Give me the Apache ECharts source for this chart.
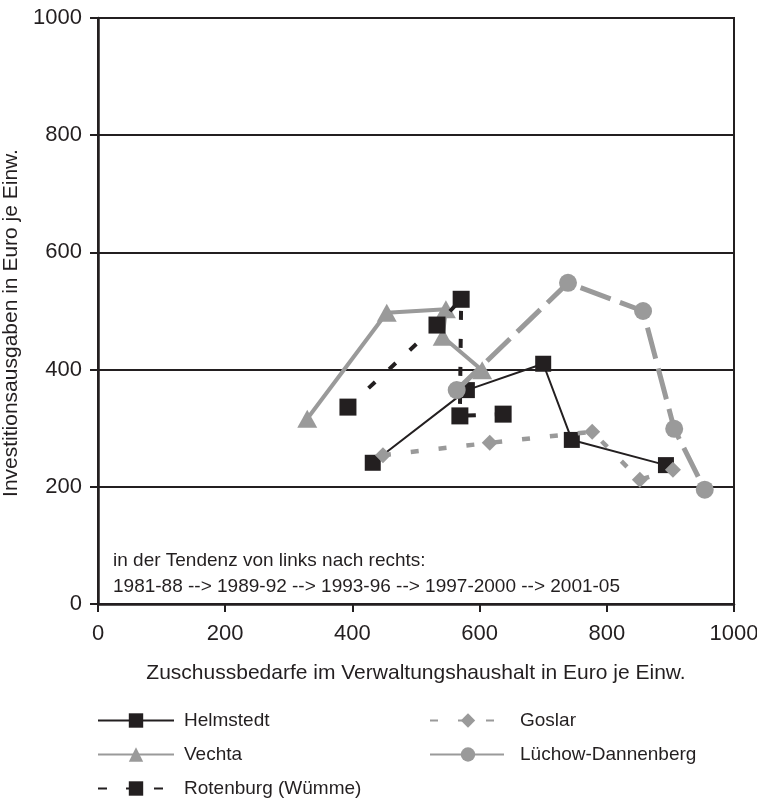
<!DOCTYPE html>
<html>
<head>
<meta charset="utf-8">
<script src="https://cdn.jsdelivr.net/npm/echarts@6/dist/echarts.min.js"></script>
<style>
html,body{margin:0;padding:0;background:#fff;}
#chart{width:757px;height:798px;}
</style>
</head>
<body>
<div id="chart"></div>
<script>
// Data (x: Zuschussbedarfe, y: Investitionsausgaben)
var helmstedtX = [432, 580, 700, 745, 893];
var helmstedtY = [241, 365, 410, 280, 237];
var vechtaX = [329, 454, 547, 542, 604];
var vechtaY = [316, 497, 503, 456, 399];
var rotenburgX = [393, 533, 571, 569, 637];
var rotenburgY = [336, 476, 520, 321, 324];
var goslarX = [448, 616, 777, 852, 904];
var goslarY = [254, 275, 294, 212, 229];
var luechowX = [564, 739, 857, 906, 954];
var luechowY = [365, 548, 500, 299, 195];
var seriesNames = ['Helmstedt', 'Vechta', 'Rotenburg (Wümme)', 'Goslar', 'Lüchow-Dannenberg'];
var xTicks = { min: 0, max: 1000, interval: 200 };
var yTicks = { min: 0, max: 1000, interval: 200 };
var noteLine1 = 'in der Tendenz von links nach rechts:';
var noteLine2 = '1981-88 --> 1989-92 --> 1993-96 --> 1997-2000 --> 2001-05';

function pairs(xs, ys) { return xs.map(function (x, i) { return [x, ys[i]]; }); }

var BLACK = '#231f20';
var GRAY = '#9a9a9a';
var FONT = 'Liberation Sans, Arial, sans-serif';

var chart = echarts.init(document.getElementById('chart'), null, { renderer: 'canvas' });
chart.setOption({
  animation: false,
  backgroundColor: '#fff',
  textStyle: { fontFamily: FONT, color: BLACK },
  grid: { left: 98, right: 23, top: 18, bottom: 194, containLabel: false, outerBoundsMode: 'none',
          show: true, borderColor: BLACK, borderWidth: 2, backgroundColor: 'transparent' },
  xAxis: {
    type: 'value', min: xTicks.min, max: xTicks.max, interval: xTicks.interval,
    name: 'Zuschussbedarfe im Verwaltungshaushalt in Euro je Einw.',
    nameLocation: 'middle', nameGap: 59,
    nameTextStyle: { fontSize: 21, color: BLACK, fontFamily: FONT },
    axisLine: { show: true, lineStyle: { color: BLACK, width: 2.5 } },
    axisTick: { show: true, length: 8, lineStyle: { color: BLACK, width: 2 } },
    axisLabel: { fontSize: 22, color: BLACK, margin: 19, fontFamily: FONT, formatter: function (v) { return String(v); } },
    splitLine: { show: false }
  },
  yAxis: {
    type: 'value', min: yTicks.min, max: yTicks.max, interval: yTicks.interval,
    name: 'Investitionsausgaben in Euro je Einw.',
    nameLocation: 'middle', nameGap: 73, nameRotate: 90,
    nameTextStyle: { fontSize: 21, color: BLACK, fontFamily: FONT, padding: [0, 24, 0, 0] },
    axisLine: { show: true, lineStyle: { color: BLACK, width: 2.5 } },
    axisTick: { show: true, length: 8, lineStyle: { color: BLACK, width: 2 } },
    axisLabel: { fontSize: 22, color: BLACK, margin: 16, fontFamily: FONT, formatter: function (v) { return String(v); } },
    splitLine: { show: true, lineStyle: { color: BLACK, width: 2 } }
  },
  legend: [
    {
      data: [seriesNames[0], seriesNames[1], seriesNames[2]],
      orient: 'vertical', left: 97, top: 711, height: 110, padding: 0,
      itemWidth: 76, itemHeight: 18, itemGap: 15,
      textStyle: { fontSize: 19, color: BLACK, fontFamily: FONT, padding: [0, 0, 0, 5] }
    },
    {
      data: [seriesNames[3], seriesNames[4]],
      orient: 'vertical', left: 429, top: 711, height: 110, padding: 0,
      itemWidth: 76, itemHeight: 18, itemGap: 15,
      textStyle: { fontSize: 19, color: BLACK, fontFamily: FONT, padding: [0, 0, 0, 9] }
    }
  ],
  graphic: [
    {
      type: 'text', left: 113, top: 548, silent: true,
      style: { text: noteLine1 + '\n' + noteLine2, font: '19px ' + FONT, fill: BLACK, lineHeight: 26 }
    }
  ],
  series: [
    {
      name: seriesNames[0], type: 'line', data: pairs(helmstedtX, helmstedtY),
      symbol: 'rect', symbolSize: 16, showAllSymbol: true,
      lineStyle: { color: BLACK, width: 2, type: 'solid' },
      itemStyle: { color: BLACK }, z: 2
    },
    {
      name: seriesNames[1], type: 'line', data: pairs(vechtaX, vechtaY),
      symbol: 'triangle', symbolSize: [20, 18],
      lineStyle: { color: GRAY, width: 4, type: 'solid' },
      itemStyle: { color: GRAY }, z: 3
    },
    {
      name: seriesNames[2], type: 'line', data: pairs(rotenburgX, rotenburgY),
      symbol: 'rect', symbolSize: 17,
      lineStyle: { color: BLACK, width: 4, type: [9, 19] },
      itemStyle: { color: BLACK }, z: 4
    },
    {
      name: seriesNames[3], type: 'line', data: pairs(goslarX, goslarY),
      symbol: 'diamond', symbolSize: 16,
      lineStyle: { color: GRAY, width: 4.5, type: [8, 20] },
      itemStyle: { color: GRAY }, z: 5
    },
    {
      name: seriesNames[4], type: 'line', data: pairs(luechowX, luechowY),
      symbol: 'circle', symbolSize: 18,
      lineStyle: { color: GRAY, width: 5, type: [32, 10] },
      itemStyle: { color: GRAY }, z: 6
    }
  ]
});
</script>
</body>
</html>
